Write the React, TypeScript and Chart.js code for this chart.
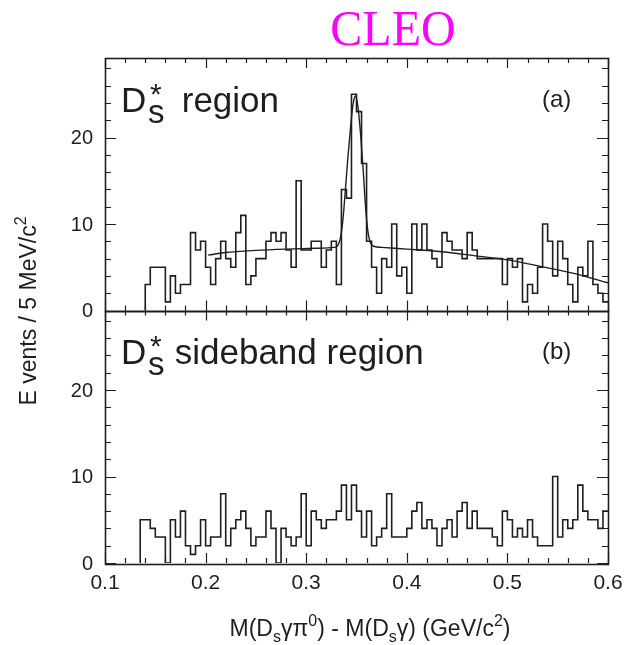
import React, { useEffect, useRef } from 'react';
import { Chart, registerables } from 'chart.js';

Chart.register(...registerables);

// ---- data (5 MeV bins from 0.100 to 0.600 GeV/c^2) ----
const BIN_START = 0.1;
const BIN_WIDTH = 0.005;

const signalCounts = [
  0, 0, 0, 0, 0, 0, 0, 0, 3, 5,
  5, 5, 1, 4, 2, 3, 3, 9, 7, 8,
  5, 3, 6, 8, 6, 5, 9, 11, 3, 4,
  6, 6, 8, 9, 8, 9, 7, 5, 15, 7,
  7, 8, 8, 5, 7, 8, 3, 14, 13, 25,
  23, 17, 8, 5, 2, 6, 5, 10, 4, 5,
  2, 10, 7, 10, 7, 6, 5, 9, 8, 7,
  7, 6, 9, 7, 6, 6, 6, 6, 6, 3,
  6, 5, 6, 1, 3, 2, 5, 10, 8, 4,
  8, 6, 3, 1, 5, 4, 8, 3, 2, 1,
];

const sidebandCounts = [
  0, 0, 0, 0, 0, 0, 0, 5, 5, 4,
  3, 3, 0, 5, 3, 6, 2, 1, 2, 5,
  2, 3, 3, 8, 2, 4, 5, 6, 4, 2,
  3, 3, 6, 4, 0, 4, 3, 2, 3, 8,
  2, 6, 5, 4, 5, 5, 6, 9, 5, 9,
  6, 3, 6, 2, 3, 4, 8, 3, 3, 3,
  4, 6, 7, 4, 5, 4, 2, 4, 5, 3,
  6, 7, 4, 6, 4, 4, 4, 3, 2, 6,
  5, 3, 4, 3, 5, 3, 2, 2, 2, 10,
  3, 5, 4, 5, 9, 6, 5, 5, 4, 6,
];

const fitMass = [
  0.2025, 0.22, 0.25, 0.28, 0.31, 0.328, 0.331, 0.334, 0.3365, 0.339,
  0.3415, 0.344, 0.3465, 0.349, 0.3515, 0.354, 0.3565, 0.359, 0.3615, 0.364,
  0.368, 0.375, 0.4, 0.43, 0.4667, 0.5, 0.533, 0.566, 0.6,
];
const fitEvents = [
  6.4, 6.7, 6.95, 7.1, 7.2, 7.3, 7.45, 8.4, 10.5, 14.0,
  17.8, 21.0, 23.8, 24.8, 23.5, 20.5, 16.5, 12.0, 9.0, 7.8,
  7.4, 7.3, 7.1, 6.85, 6.35, 5.85, 5.1, 4.3, 3.2,
];

const xTickValues = [0.1, 0.2, 0.3, 0.4, 0.5, 0.6];
const xTickLabels = ['0.1', '0.2', '0.3', '0.4', '0.5', '0.6'];
const yTickValues = [0, 10, 20];
const yTickLabels = ['0', '10', '20'];
const Y_MAX = 29.2;

const SANS = '"Liberation Sans", Arial, Helvetica, sans-serif';
const SERIF = '"Liberation Serif", "Times New Roman", serif';
const INK = '#1e1e1e';

// step-histogram outline: starts where the first filled bin rises from zero
function histPoints(counts: number[]) {
  const first = counts.findIndex((c) => c > 0);
  const pts: { x: number; y: number }[] = [{ x: BIN_START + first * BIN_WIDTH, y: 0 }];
  for (let i = first; i < counts.length; i++) {
    pts.push({ x: BIN_START + i * BIN_WIDTH, y: counts[i] });
  }
  pts.push({ x: BIN_START + counts.length * BIN_WIDTH, y: counts[counts.length - 1] });
  return pts;
}

type Part = { t: string; size: number; dy?: number; font?: string };

function drawParts(ctx: CanvasRenderingContext2D, parts: Part[], x: number, y: number, align: 'left' | 'center' | 'right', sx = 1) {
  ctx.textAlign = 'left';
  ctx.textBaseline = 'alphabetic';
  const widths = parts.map((p) => {
    ctx.font = `${p.size}px ${p.font || SANS}`;
    return ctx.measureText(p.t).width * sx;
  });
  const total = widths.reduce((a, b) => a + b, 0);
  let cx = align === 'center' ? x - total / 2 : align === 'right' ? x - total : x;
  parts.forEach((p, i) => {
    ctx.font = `${p.size}px ${p.font || SANS}`;
    ctx.save();
    ctx.translate(cx, y + (p.dy || 0));
    ctx.scale(sx, 1);
    ctx.fillText(p.t, 0, 0);
    ctx.restore();
    cx += widths[i];
  });
}

const framePlugin = {
  id: 'cleoFrame',
  afterDraw(chart: any) {
    const ctx: CanvasRenderingContext2D = chart.ctx;
    const xs = chart.scales.x;
    const panels = [chart.scales.yTop, chart.scales.yBot];
    const L = chart.chartArea.left;
    const R = chart.chartArea.right;
    ctx.save();
    ctx.strokeStyle = INK;
    ctx.fillStyle = INK;

    panels.forEach((ys: any) => {
      const T = ys.top;
      const B = ys.bottom;
      ctx.lineWidth = 1.2;
      ctx.beginPath();
      // x ticks every 0.02, major every 0.1
      for (let i = 0; i <= 25; i++) {
        const v = 0.1 + i * 0.02;
        const px = Math.round(xs.getPixelForValue(v)) + 0.5;
        const len = i % 5 === 0 ? 10 : 5;
        ctx.moveTo(px, B);
        ctx.lineTo(px, B - len);
        ctx.moveTo(px, T);
        ctx.lineTo(px, T + len);
      }
      // y ticks every 2, major every 10
      for (let v = 0; v <= Y_MAX; v += 2) {
        const py = Math.round(ys.getPixelForValue(v)) + 0.5;
        const len = v % 10 === 0 ? 11 : 6;
        ctx.moveTo(L, py);
        ctx.lineTo(L + len, py);
        ctx.moveTo(R, py);
        ctx.lineTo(R - len, py);
      }
      ctx.stroke();
      ctx.lineWidth = 1.6;
      ctx.strokeRect(Math.round(L) + 0.5, Math.round(T) + 0.5, Math.round(R - L), Math.round(B - T));

      // y tick labels
      ctx.font = `20px ${SANS}`;
      ctx.textAlign = 'right';
      ctx.textBaseline = 'middle';
      yTickValues.forEach((v, i) => {
        ctx.fillText(yTickLabels[i], 93, ys.getPixelForValue(v) + 1);
      });
    });

    // x tick labels
    ctx.font = `21px ${SANS}`;
    ctx.textAlign = 'center';
    ctx.textBaseline = 'alphabetic';
    xTickValues.forEach((v, i) => {
      ctx.fillText(xTickLabels[i], xs.getPixelForValue(v), 589);
    });

    // x title
    drawParts(ctx, [
      { t: 'M(D', size: 23 },
      { t: 's', size: 16, dy: 6 },
      { t: 'γπ', size: 23 },
      { t: '0', size: 16, dy: -10 },
      { t: ') - M(D', size: 23 },
      { t: 's', size: 16, dy: 6 },
      { t: 'γ) (GeV/c', size: 23 },
      { t: '2', size: 16, dy: -10 },
      { t: ')', size: 23 },
    ], 370, 636, 'center');

    // y title (rotated)
    ctx.save();
    ctx.translate(36, 311);
    ctx.rotate(-Math.PI / 2);
    drawParts(ctx, [
      { t: 'E vents / 5 MeV/c', size: 23 },
      { t: '2', size: 16, dy: -10 },
    ], 0, 0, 'center');
    ctx.restore();

    // panel labels
    const [yt, yb] = panels;
    const labelRows = [
      { base: yt.top + 54, text: ' region', tag: '(a)', textX: 172 },
      { base: yb.top + 53, text: ' sideband region', tag: '(b)', textX: 165 },
    ];
    labelRows.forEach((row) => {
      drawParts(ctx, [{ t: 'D', size: 35 }], 121, row.base, 'left');
      drawParts(ctx, [{ t: 's', size: 33 }], 148, row.base + 11, 'left');
      drawParts(ctx, [{ t: '*', size: 30 }], 150, row.base - 8, 'left');
      drawParts(ctx, [{ t: row.text, size: 35 }], row.textX, row.base, 'left');
      drawParts(ctx, [{ t: row.tag, size: 24 }], 542, row.base - 5, 'left');
    });

    // CLEO
    ctx.fillStyle = '#ff00ff';
    drawParts(ctx, [{ t: 'CLEO', size: 50, font: SERIF }], 393, 45, 'center', 0.96);
    ctx.restore();
  },
};

export default function App() {
  const canvasRef = useRef<HTMLCanvasElement | null>(null);

  useEffect(() => {
    if (!canvasRef.current) return;
    const chart = new Chart(canvasRef.current, {
      type: 'line',
      data: {
        datasets: [
          {
            label: 'Ds* region',
            data: histPoints(signalCounts),
            yAxisID: 'yTop',
            stepped: 'before',
            borderColor: INK,
            borderWidth: 1.6,
            pointRadius: 0,
            fill: false,
          },
          {
            label: 'fit',
            data: fitMass.map((m, i) => ({ x: m, y: fitEvents[i] })),
            yAxisID: 'yTop',
            cubicInterpolationMode: 'monotone',
            borderColor: INK,
            borderWidth: 1.4,
            pointRadius: 0,
            fill: false,
          },
          {
            label: 'Ds* sideband region',
            data: histPoints(sidebandCounts),
            yAxisID: 'yBot',
            stepped: 'before',
            borderColor: INK,
            borderWidth: 1.6,
            pointRadius: 0,
            fill: false,
          },
        ],
      },
      options: {
        responsive: false,
        animation: false,
        events: [],
        layout: { padding: { left: 105, right: 17, top: 58, bottom: 82 } },
        plugins: { legend: { display: false }, tooltip: { enabled: false }, title: { display: false } },
        scales: {
          x: { type: 'linear', min: 0.1, max: 0.6, display: false },
          yTop: { type: 'linear', min: 0, max: Y_MAX, display: false, position: 'left', stack: 'panels', stackWeight: 1, weight: 2 },
          yBot: { type: 'linear', min: 0, max: Y_MAX, display: false, position: 'left', stack: 'panels', stackWeight: 1, weight: 1 },
        },
      } as any,
      plugins: [framePlugin],
    });
    return () => chart.destroy();
  }, []);

  return (
    <div style={{ position: 'absolute', left: 0, top: 0, width: 625, height: 645, background: '#fff' }}>
      <canvas ref={canvasRef} width={625} height={645} />
    </div>
  );
}
